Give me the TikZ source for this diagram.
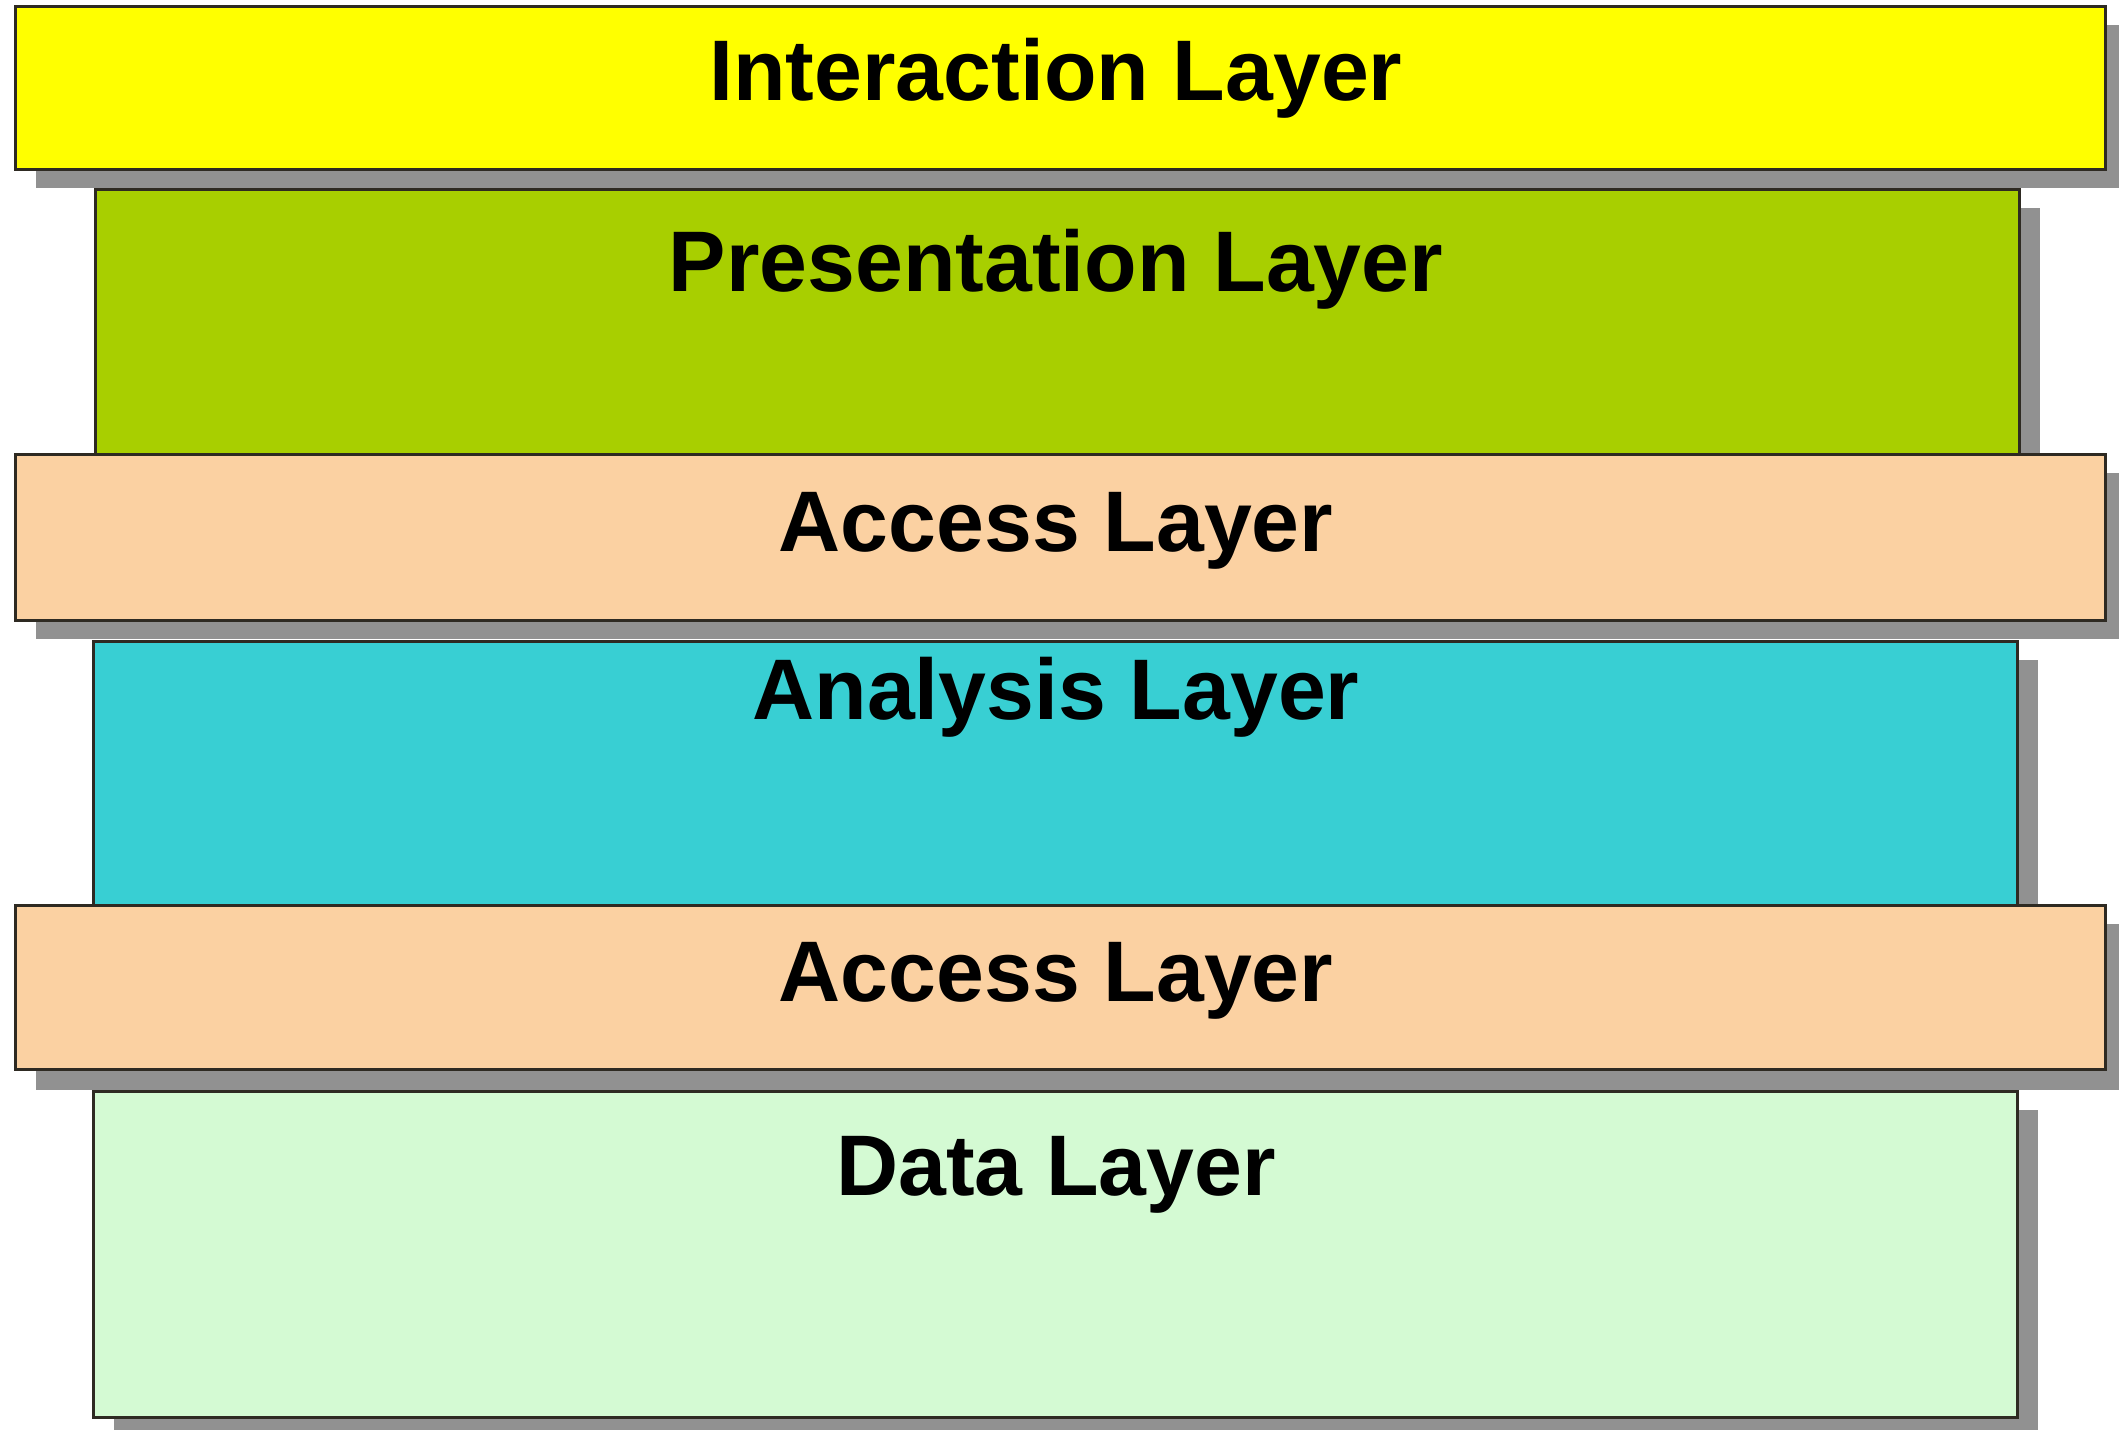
\documentclass[tikz,border=0pt]{standalone}
\usepackage{fontspec}
\setmainfont{Liberation Sans}
\definecolor{cInter}{HTML}{FFFF00}
\definecolor{cPres}{HTML}{A8CF00}
\definecolor{cAccess}{HTML}{FBD1A2}
\definecolor{cAnal}{HTML}{38CFD3}
\definecolor{cData}{HTML}{D4FAD3}
\definecolor{cShadow}{HTML}{919191}
\definecolor{cBorder}{HTML}{2E2A22}
\tikzset{
  layerbox/.style={draw=cBorder, line width=1.5pt, inner sep=0pt, anchor=north west},
  shadowbox/.style={fill=cShadow},
  layertext/.style={anchor=base, inner sep=0pt, font=\fontsize{43pt}{50pt}\selectfont\bfseries, text=black}
}
\begin{document}
\begin{tikzpicture}[x=0.5pt, y=-0.5pt]
\useasboundingbox[fill=white] (0,0) rectangle (2119,1429);
\begin{scope}
\clip (0,0) rectangle (2119,1429);
% Interaction
\fill[shadowbox] (36,25) rectangle (2126,188);
\node[layerbox, fill=cInter, minimum width=1045pt, minimum height=81.5pt] (inter) at (14,5) {};
% Presentation
\fill[shadowbox] (116,208) rectangle (2040,473);
\node[layerbox, fill=cPres, minimum width=962pt, minimum height=132.5pt] (pres) at (94,188) {};
% Access 1
\fill[shadowbox] (36,473) rectangle (2126,639);
\node[layerbox, fill=cAccess, minimum width=1045pt, minimum height=83pt] (acc1) at (14,453) {};
% Analysis
\fill[shadowbox] (114,660) rectangle (2038,924);
\node[layerbox, fill=cAnal, minimum width=962pt, minimum height=132pt] (anal) at (92,640) {};
% Access 2
\fill[shadowbox] (36,924) rectangle (2126,1090);
\node[layerbox, fill=cAccess, minimum width=1045pt, minimum height=82pt] (acc2) at (14,904) {};
% Data
\fill[shadowbox] (114,1110) rectangle (2038,1436);
\node[layerbox, fill=cData, minimum width=962pt, minimum height=163pt] (data) at (92,1090) {};
\end{scope}
% Labels
\node[layertext] (tinter) at (1056,101) {Interaction Layer};
\node[layertext] (tpres) at (1056,291) {Presentation Layer};
\node[layertext] (tacc1) at (1056,551) {Access Layer};
\node[layertext] (tanal) at (1056,719) {Analysis Layer};
\node[layertext] (tacc2) at (1056,1001) {Access Layer};
\node[layertext] (tdata) at (1056,1195) {Data Layer};
\end{tikzpicture}
\end{document}
